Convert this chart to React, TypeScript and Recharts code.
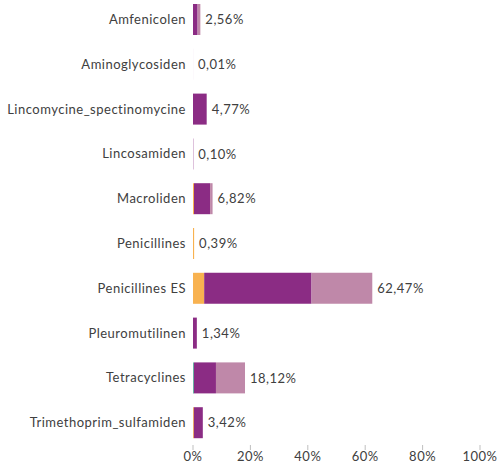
import { BarChart, Bar, XAxis, YAxis, LabelList } from 'recharts'

const categories = [
  'Amfenicolen',
  'Aminoglycosiden',
  'Lincomycine_spectinomycine',
  'Lincosamiden',
  'Macroliden',
  'Penicillines',
  'Penicillines ES',
  'Pleuromutilinen',
  'Tetracyclines',
  'Trimethoprim_sulfamiden',
]
const orange = [0, 0, 0, 0, 0.35, 0.39, 3.9, 0, 0, 0.3]
const teal = [0, 0, 0, 0, 0, 0, 0, 0, 0.3, 0]
const purple = [1.6, 0.01, 4.77, 0.1, 5.6, 0, 37.4, 1.34, 7.7, 3.12]
const pink = [0.96, 0, 0, 0, 0.87, 0, 21.17, 0, 10.12, 0]
const totals = [2.56, 0.01, 4.77, 0.1, 6.82, 0.39, 62.47, 1.34, 18.12, 3.42]
const xTicks = [0, 20, 40, 60, 80, 100]

const data = categories.map((name, i) => ({
  name,
  orange: orange[i],
  teal: teal[i],
  purple: purple[i],
  pink: pink[i],
  total: totals[i],
}))

const font = 'Lato, "Open Sans", sans-serif'
const tickStyle = { fontSize: 13, fill: '#404040', fontFamily: font, letterSpacing: 0.5 }

export default function App() {
  return (
    <div style={{ position: 'absolute', left: 0, top: 0, background: '#fff' }}>
      <BarChart
        width={500}
        height={467}
        data={data}
        layout="vertical"
        margin={{ top: -3, right: 20, bottom: 0, left: 0 }}
        barSize={31}
        barGap={-31}
      >
        <XAxis
          type="number"
          domain={[0, 100]}
          ticks={xTicks}
          tickFormatter={(v) => `${v}%`}
          tick={tickStyle}
          axisLine={false}
          tickLine={{ stroke: '#bfbfbf' }}
          tickSize={5}
          tickMargin={2}
          height={22}
          interval={0}
        />
        <YAxis
          type="category"
          dataKey="name"
          width={193}
          tick={tickStyle}
          axisLine={false}
          tickLine={false}
          tickMargin={7}
          tickSize={0}
          interval={0}
        />
        <Bar dataKey="orange" stackId="a" fill="#F8B250" isAnimationActive={false} />
        <Bar dataKey="teal" stackId="a" fill="#4DBE9A" isAnimationActive={false} />
        <Bar dataKey="purple" stackId="a" fill="#8B2C84" isAnimationActive={false} />
        <Bar dataKey="pink" stackId="a" fill="#BF88A9" isAnimationActive={false} />
        {/* transparent total bar, only carries the value labels */}
        <Bar dataKey="total" fill="transparent" isAnimationActive={false}>
          <LabelList
            dataKey="total"
            position="right"
            offset={5}
            formatter={(v: any) => `${Number(v).toFixed(2).replace('.', ',')}%`}
            style={tickStyle}
          />
        </Bar>
      </BarChart>
    </div>
  )
}
